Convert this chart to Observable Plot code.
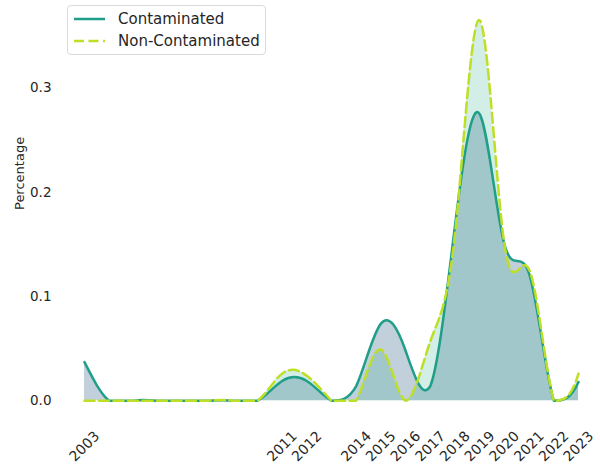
<!DOCTYPE html>
<html>
<head>
<meta charset="utf-8">
<script src="https://cdn.jsdelivr.net/npm/d3@7"></script>
<script src="https://cdn.jsdelivr.net/npm/@observablehq/plot@0.6"></script>
<style>
  html, body { margin: 0; padding: 0; background: white; }
  #wrap { position: relative; width: 600px; height: 465px; font-family: "DejaVu Sans", sans-serif; }
  #legend {
    position: absolute; left: 67px; top: 5px; width: 197px; height: 48px;
    border: 1px solid #d9d9d9; border-radius: 4px; background: rgba(255,255,255,0.85);
    font-size: 15px; color: #262626;
  }
  .row { position: absolute; left: 5px; display: flex; align-items: center; }
  .row svg { margin-right: 12px; }
</style>
</head>
<body>
<div id="wrap"></div>
<script>
// ---- data ----
const years = [2003, 2004, 2005, 2006, 2007, 2008, 2009, 2010, 2011, 2012, 2013,
               2014, 2015, 2016, 2017, 2018, 2019, 2020, 2021, 2022, 2023];
const contaminated = [0.037, 0, 0, 0, 0, 0, 0, 0, 0.019, 0.019, 0,
                      0.014, 0.074, 0.048, 0.014, 0.168, 0.275, 0.150, 0.122, 0, 0.018];
const nonContaminated = [0, 0, 0, 0, 0, 0, 0, 0, 0.026, 0.024, 0,
                         0, 0.049, 0, 0.057, 0.160, 0.365, 0.150, 0.126, 0, 0.026];
const xTicks = [2003, 2011, 2012, 2014, 2015, 2016, 2017, 2018, 2019, 2020, 2021, 2022, 2023];
const yTicks = [0, 0.1, 0.2, 0.3];
const seriesNames = ["Contaminated", "Non-Contaminated"];

const data = years.map((year, i) => ({year, cont: contaminated[i], noncont: nonContaminated[i]}));

// ---- layout ----
const W = 600, H = 465, mL = 84, mR = 22, mT = 0, mB = 46;
const yMin = -0.018, yMax = 0.384;
const Y0 = mT + (H - mT - mB) * (yMax - 0) / (yMax - yMin); // pixel of value 0

// natural spline whose control points never dip below the zero line (values clipped at 0)
function clampedNatural(context) {
  const proxy = {
    moveTo: (x, y) => context.moveTo(x, y),
    lineTo: (x, y) => context.lineTo(x, y),
    bezierCurveTo: (a, b, c, d, x, y) =>
      context.bezierCurveTo(a, Math.min(b, Y0), c, Math.min(d, Y0), x, y),
    closePath: () => context.closePath()
  };
  return d3.curveNatural(proxy);
}

const contColor = "#1f9e89", nonColor = "#bddf26";

const chart = Plot.plot({
  width: W, height: H,
  marginLeft: mL, marginRight: mR, marginTop: mT, marginBottom: mB,
  style: {fontFamily: "DejaVu Sans, sans-serif", fontSize: "13.5px", color: "#262626", background: "white"},
  x: {domain: [2003, 2023]},
  y: {domain: [yMin, yMax]},
  marks: [
    Plot.areaY(data, {x: "year", y: "cont", fill: "#34628a", fillOpacity: 0.3, curve: clampedNatural}),
    Plot.lineY(data, {x: "year", y: "cont", stroke: contColor, strokeWidth: 2.5, curve: clampedNatural}),
    Plot.areaY(data, {x: "year", y: "noncont", fill: "#21a585", fillOpacity: 0.2, curve: clampedNatural}),
    Plot.lineY(data, {x: "year", y: "noncont", stroke: nonColor, strokeWidth: 2.5,
                      strokeDasharray: "10,4.5", curve: clampedNatural}),
    Plot.axisX({ticks: xTicks, tickFormat: d => String(d), tickSize: 0, tickPadding: 27,
                tickRotate: -45, textAnchor: "middle", lineAnchor: "middle", label: null, fontSize: 14}),
    Plot.axisY({ticks: yTicks, tickFormat: d3.format(".1f"), tickSize: 0, tickPadding: 33, label: null}),
    Plot.text(["Percentage"], {frameAnchor: "left", dx: -65, rotate: -90, text: d => d,
                               fontSize: 13, fill: "#262626"})
  ]
});

const wrap = document.getElementById("wrap");
wrap.appendChild(chart);

const legend = document.createElement("div");
legend.id = "legend";
legend.innerHTML = `
  <div class="row" style="top:3px"><svg width="33" height="20"><line x1="1" x2="32" y1="10" y2="10" stroke="${contColor}" stroke-width="2.5"/></svg><span>${seriesNames[0]}</span></div>
  <div class="row" style="top:25px"><svg width="33" height="20"><line x1="1" x2="32" y1="10" y2="10" stroke="${nonColor}" stroke-width="2.5" stroke-dasharray="10,4.5"/></svg><span>${seriesNames[1]}</span></div>`;
wrap.appendChild(legend);
</script>
</body>
</html>
